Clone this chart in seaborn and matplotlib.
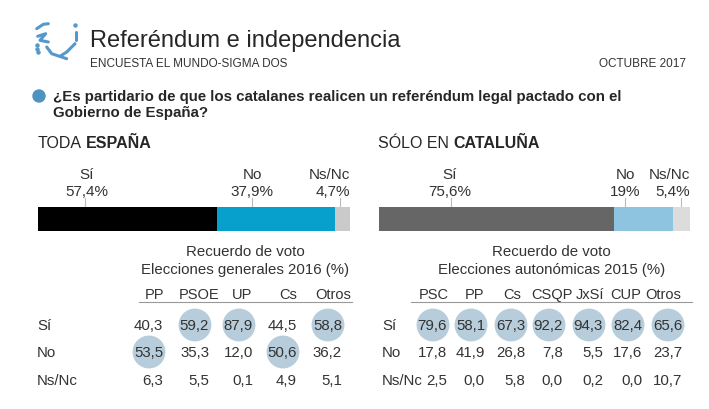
import matplotlib
matplotlib.use('Agg')
import matplotlib.pyplot as plt
import seaborn as sns
import pandas as pd
import numpy as np

plt.rcParams['font.family'] = ['Liberation Sans', 'DejaVu Sans']

# --- DATA ---
bar_cats = ['Sí', 'No', 'Ns/Nc']
spain_pct = [57.4, 37.9, 4.7]
spain_lbl = ['57,4%', '37,9%', '4,7%']
cat_pct = [75.6, 19.0, 5.4]
cat_lbl = ['75,6%', '19%', '5,4%']

rows = ['Sí', 'No', 'Ns/Nc']
spain_parties = ['PP', 'PSOE', 'UP', 'Cs', 'Otros']
spain_si = [40.3, 59.2, 87.9, 44.5, 58.8]
spain_no = [53.5, 35.3, 12.0, 50.6, 36.2]
spain_ns = [6.3, 5.5, 0.1, 4.9, 5.1]

cat_parties = ['PSC', 'PP', 'Cs', 'CSQP', 'JxSí', 'CUP', 'Otros']
cat_si = [79.6, 58.1, 67.3, 92.2, 94.3, 82.4, 65.6]
cat_no = [17.8, 41.9, 26.8, 7.8, 5.5, 17.6, 23.7]
cat_ns = [2.5, 0.0, 5.8, 0.0, 0.2, 0.0, 10.7]

W, H = 709, 410
fig = plt.figure(figsize=(W / 100, H / 100), dpi=100)
# one full-figure axes in pixel coords (y down)
ax = fig.add_axes([0, 0, 1, 1])
ax.set_xlim(0, W)
ax.set_ylim(H, 0)
ax.axis('off')
renderer = fig.canvas.get_renderer()
TXT = '#262626'

# --- HEADER ---
logo_c = '#5498cc'
strokes = [
    [(36.7, 29.7), (43.3, 25.3), (48.3, 24.7)],
    [(37.7, 37.3), (45.7, 34.7), (40, 41.3), (48.3, 43)],
    [(46.7, 48), (51.7, 54.7), (66.7, 59.7)],
    [(75.7, 33), (75.7, 41.3)],
    [(75, 44.7), (66.7, 53), (60, 57.3)],
]
for s in strokes:
    xs, ys = zip(*s)
    ax.plot(xs, ys, color=logo_c, lw=2.2, solid_capstyle='round')
for p in [(75, 26.3), (36.7, 46.3), (36.7, 49.7), (37.7, 53)]:
    ax.plot(*p, 'o', color=logo_c, ms=2.2)

ax.text(90, 41, 'Referéndum e independencia', fontsize=17, va='center', color=TXT)
ax.text(90, 64, 'ENCUESTA EL MUNDO-SIGMA DOS', fontsize=8.5, va='center', color='#333333')
ax.text(686, 64, 'OCTUBRE 2017', fontsize=8.5, va='center', ha='right', color='#333333')

ax.add_patch(plt.Circle((39, 97), 6, color='#4f93c3'))
ax.text(53, 97, '¿Es partidario de que los catalanes realicen un referéndum legal pactado con el',
        fontsize=10.8, fontweight='bold', va='center', color=TXT)
ax.text(53, 113, 'Gobierno de España?', fontsize=10.8, fontweight='bold', va='center', color=TXT)


def mixed_title(x, plain, bold):
    t = ax.text(x, 144, plain, fontsize=11.5, va='center', color=TXT)
    w = t.get_window_extent(renderer).width
    ax.text(x + w + 4, 144, bold, fontsize=11.5, va='center', fontweight='bold', color=TXT)


mixed_title(38, 'TODA', 'ESPAÑA')
mixed_title(378, 'SÓLO EN', 'CATALUÑA')


# --- STACKED BARS ---
def stacked_bar(x0, x1, pct, colors):
    bax = fig.add_axes([x0 / W, 1 - 232 / H, (x1 - x0) / W, 24 / H])
    cum = np.cumsum(pct)
    # longest (cumulative) bar drawn first, shorter ones on top
    df = pd.DataFrame({'cat': bar_cats[::-1], 'cum': cum[::-1], 'row': ['a'] * 3})
    sns.barplot(data=df, x='cum', y='row', hue='cat', hue_order=bar_cats[::-1],
                palette=colors[::-1], dodge=False, width=1, saturation=1,
                legend=False, orient='h', ax=bax)
    bax.set_xlim(0, 100)
    bax.set_ylim(0.5, -0.5)
    bax.axis('off')


stacked_bar(38, 350, spain_pct, ['#000000', '#079fcb', '#cacaca'])
stacked_bar(379, 690, cat_pct, ['#666666', '#8fc4e1', '#dcdcdc'])


def bar_labels(xs, ticks, has, labels):
    for x, t, h, c, l in zip(xs, ticks, has, bar_cats, labels):
        ax.text(x, 175, c, fontsize=11, ha=h, va='center', color='#333333')
        ax.text(x, 192, l, fontsize=11, ha=h, va='center', color='#333333')
        ax.plot([t, t], [199, 208], color='#bbbbbb', lw=0.8)


bar_labels([87, 252, 350], [85, 252, 340], ['center', 'center', 'right'], spain_lbl)
bar_labels([450, 625, 690], [451, 625, 681], ['center', 'center', 'right'], cat_lbl)


# --- TABLES ---
def fmt(v):
    return f'{v:.1f}'.replace('.', ',')


def table(label_x, head_x, right_x, line, title2, parties, si, no, ns):
    cx = (line[0] + line[1]) / 2
    ax.text(cx, 252, 'Recuerdo de voto', fontsize=10.8, ha='center', va='center', color='#333333')
    ax.text(cx, 270, title2, fontsize=10.8, ha='center', va='center', color='#333333')
    for x, p in zip(head_x, parties):
        ax.text(x, 295, p, fontsize=10.5, ha='center', va='center', color='#333333')
    ax.plot(line, [303, 303], color='#999999', lw=0.8)
    vals = np.array([si, no, ns])
    ys = [326, 353, 381]
    # highlight the majority answer of each party
    hi = vals == vals.max(axis=0)
    pts = pd.DataFrame([(right_x[j] - 14, ys[i]) for i in range(3) for j in range(len(parties)) if hi[i, j]],
                       columns=['x', 'y'])
    sns.scatterplot(data=pts, x='x', y='y', s=560, color='#b7cddb', edgecolor='none', ax=ax, zorder=1)
    for i, r in enumerate(rows):
        ax.text(label_x, ys[i], r, fontsize=10.8, va='center', color='#333333')
        for j in range(len(parties)):
            ax.text(right_x[j], ys[i], fmt(vals[i, j]), fontsize=10.8, ha='right', va='center',
                    color='#333333', zorder=3)


table(37, [154, 199, 242, 288, 333], [163, 209, 253, 297, 342], [139, 352],
      'Elecciones generales 2016 (%)', spain_parties, spain_si, spain_no, spain_ns)
table(382, [434, 474, 512, 552, 590, 626, 663], [447, 485, 525, 563, 603, 642, 682], [411, 692],
      'Elecciones autonómicas 2015 (%)', cat_parties, cat_si, cat_no, cat_ns)

ax.set_xlim(0, W)
ax.set_ylim(H, 0)
ax.axis('off')
fig.savefig('out.png', dpi=100)
